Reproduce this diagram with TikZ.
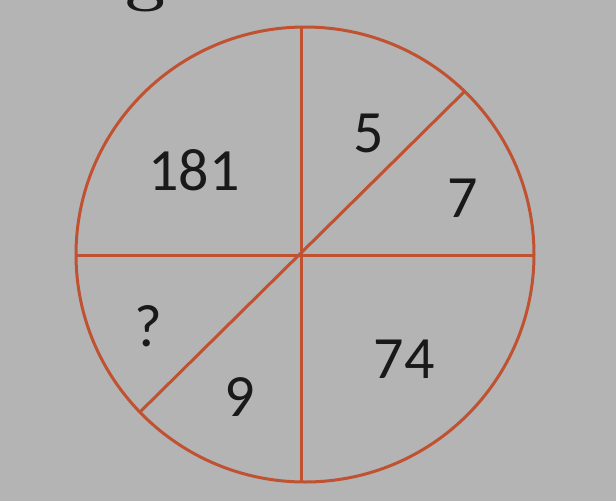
\documentclass[tikz,border=0pt]{standalone}
\usepackage{fontspec}
\newfontfamily\carlito{Carlito}
\definecolor{bg}{RGB}{180,180,180}
\definecolor{ring}{RGB}{192,82,50}
\definecolor{ink}{RGB}{25,25,25}
\begin{document}
\begin{tikzpicture}[x=1pt,y=-1pt,
  seg/.style={draw=ring,line width=3pt},
  num/.style={text=ink,font=\carlito\fontsize{60}{60}\selectfont,inner sep=0pt}]
\useasboundingbox (0,0) rectangle (616,501);
\fill[bg] (0,0) rectangle (616,501);
\begin{scope}
\clip (0,0) rectangle (616,501);
\node[text=ink,font=\bfseries\fontsize{72}{72}\selectfont,inner sep=0pt,anchor=base] (g) at (146,-3) {g};
\end{scope}
\coordinate (top) at (301,27);
\coordinate (bot) at (301,482);
\coordinate (lft) at (76,255);
\coordinate (rgt) at (534,255);
\coordinate (ur) at (464,92);
\coordinate (ll) at (140,412);
\draw[seg] (305,254.5) ellipse [x radius=229, y radius=227.5];
\draw[seg] (top) -- (bot);
\draw[seg] (lft) -- (rgt);
\draw[seg] (ur) -- (ll);
\node[num] (n181) at (194,170) {181};
\node[num] (n5) at (369,133) {5};
\node[num] (n7) at (463,198) {7};
\node[num] (nq) at (148,326) {?};
\node[num] (n9) at (240,397) {9};
\node[num] (n74) at (404,359) {74};
\end{tikzpicture}
\end{document}
